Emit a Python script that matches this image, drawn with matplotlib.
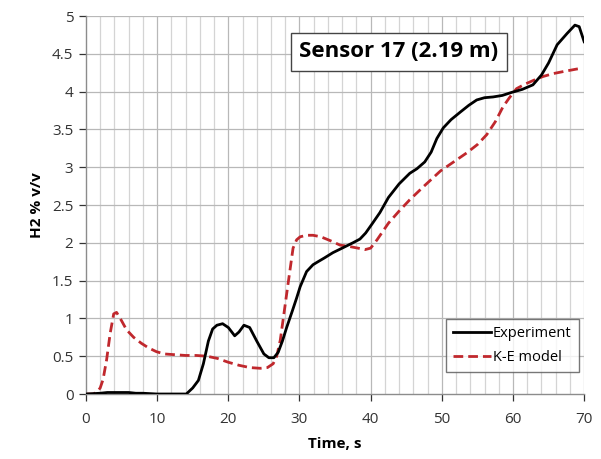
import matplotlib.pyplot as plt
import numpy as np

# measured H2 concentration, sensor 17
exp_t = [0, 2, 3, 4, 5, 6, 7, 8, 10, 12, 14.1, 15, 15.8, 16.5, 17.2, 17.8, 18.4, 19.2,
         20, 20.9, 21.5, 22.2, 23, 24, 25, 25.7, 26.4, 27, 27.6, 28.2, 29, 29.6, 30.1,
         31, 31.9, 32.6, 33.5, 34.7, 36, 37.5, 38.5, 39.3, 40.2, 41.3, 42.5, 44, 45.5,
         46.5, 47.6, 48.5, 49.3, 50.2, 51.3, 52.6, 53.8, 54.9, 56, 57.2, 58.5, 59.8, 61.3,
         62.8, 64, 65, 66.2, 67.6, 68.7, 69.3, 70]
exp_y = [0, 0.01, 0.02, 0.02, 0.02, 0.02, 0.01, 0.01, 0, 0, 0, 0.08, 0.18, 0.4, 0.7, 0.86,
         0.91, 0.93, 0.88, 0.77, 0.82, 0.91, 0.88, 0.7, 0.53, 0.48, 0.48, 0.55, 0.7, 0.88,
         1.1, 1.27, 1.42, 1.62, 1.71, 1.75, 1.8, 1.87, 1.93, 2.0, 2.05, 2.13, 2.25, 2.4,
         2.6, 2.78, 2.92, 2.98, 3.07, 3.2, 3.38, 3.52, 3.63, 3.73, 3.82, 3.89, 3.92, 3.93,
         3.95, 3.99, 4.03, 4.09, 4.22, 4.38, 4.62, 4.77, 4.88, 4.86, 4.66]

# K-epsilon model prediction
ke_t = [0, 1, 1.5, 2, 2.4, 2.9, 3.4, 3.9, 4.3, 5, 5.7, 6.7, 7.8, 8.8, 9.9, 11, 12.5, 14,
        15.5, 17, 18.5, 20, 21.5, 23, 24.5, 25.5, 26.3, 26.8, 27.3, 27.8, 28.4, 29.1, 29.6,
        30.1, 31, 31.9, 33, 34.3, 35.7, 37.1, 38.2, 39.2, 40, 40.9, 41.7, 42.5, 44, 45.5,
        47.5, 49.8, 51.5, 53.5, 55, 56.3, 57.5, 58.6, 59.5, 60.5, 61.7, 62.9, 64.2, 65.7,
        67.3, 69, 69.8]
ke_y = [0, 0, 0.02, 0.08, 0.19, 0.45, 0.8, 1.06, 1.08, 0.97, 0.85, 0.75, 0.67, 0.61,
        0.56, 0.53, 0.52, 0.51, 0.51, 0.5, 0.47, 0.42, 0.38, 0.35, 0.34, 0.35, 0.4, 0.5,
        0.71, 1.05, 1.46, 1.93, 2.04, 2.08, 2.1, 2.1, 2.08, 2.03, 1.97, 1.95, 1.93, 1.91,
        1.93, 2.04, 2.15, 2.26, 2.42, 2.57, 2.75, 2.95, 3.06, 3.19, 3.3, 3.43, 3.6, 3.8,
        3.92, 4.04, 4.1, 4.15, 4.2, 4.24, 4.27, 4.3, 4.31]

x_ticks = np.arange(0, 71, 10)
y_ticks = np.arange(0, 5.01, 0.5)
y_labels = ['0', '0.5', '1', '1.5', '2', '2.5', '3', '3.5', '4', '4.5', '5']

plt.rcParams['font.family'] = ['Open Sans', 'DejaVu Sans']

fig = plt.figure(figsize=(6.01, 4.59), dpi=100)
ax = fig.add_axes([0.143, 0.1416, 0.829, 0.8234])

# grid: light lines every 2 s, darker every 10 s, horizontal every 0.5
for x in np.arange(2, 71, 2):
    c = '#b8b8b8' if x % 10 == 0 else '#d4d4d4'
    ax.axvline(x, color=c, lw=0.9, zorder=0)
for y in y_ticks[1:]:
    ax.axhline(y, color='#b8b8b8', lw=0.9, zorder=0)

ax.plot(exp_t, exp_y, color='black', lw=2.0, label='Experiment', zorder=3)
ax.plot(ke_t, ke_y, color='#c0282d', lw=2.0, ls=(0, (3.5, 1.8)), label='K-E model', zorder=2)

ax.set_xlim(0, 70)
ax.set_ylim(0, 5)
ax.set_xticks(x_ticks)
ax.set_yticks(y_ticks)
ax.set_yticklabels(y_labels)
ax.tick_params(axis='both', labelsize=11, colors='#333333', length=5, width=0.9,
               direction='out', pad=4)
ax.tick_params(axis='x', pad=8)
for side in ['top', 'right']:
    ax.spines[side].set_visible(False)
for side in ['left', 'bottom']:
    ax.spines[side].set_color('#8c8c8c')
    ax.spines[side].set_linewidth(1.0)

ax.set_xlabel('Time, s', fontsize=11, fontweight='bold', labelpad=7)
ax.set_ylabel('H2 % v/v', fontsize=11, fontweight='bold', labelpad=6)

ax.text(0.628, 0.905, 'Sensor 17 (2.19 m)', transform=ax.transAxes, ha='center',
        va='center', fontsize=16, fontweight='bold',
        bbox=dict(boxstyle='square,pad=0.38', fc='white', ec='#444444', lw=1.0))

leg = ax.legend(loc='lower right', bbox_to_anchor=(0.995, 0.05), fontsize=10.5,
                frameon=True, fancybox=False, handlelength=2.6, handletextpad=0.1,
                borderpad=0.5, labelspacing=0.6, borderaxespad=0.2)
leg.get_frame().set_edgecolor('#555555')
leg.get_frame().set_linewidth(1.0)

fig.savefig('out.png', dpi=100)
